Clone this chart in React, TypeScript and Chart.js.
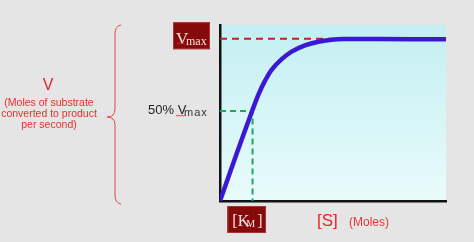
import React, { useEffect, useRef } from "react";
import { Chart, registerables } from "chart.js";

Chart.register(...registerables);

// ---- data (x: substrate concentration, y: reaction velocity) ----
const substrate = [0, 7, 14.2, 17, 20, 23, 27.3, 31.7, 37.6, 43.5, 49.4, 54.4, 70, 100];
const velocity = [0, 25.5, 51.1, 60.5, 68.5, 74.8, 80.6, 84.9, 88.4, 90.5, 91.6, 92.0, 92.0, 91.9];
const vmax = 92.2;
const halfVmax = 51.1;
const km = 14.4;
const xRange = [0, 100];
const yRange = [0, 100];

const leftTitle = "V";
const leftSubtitle = ["(Moles of substrate", "converted to product", "per second)"];
const xTitle = "[S]";
const xUnit = "(Moles)";

const RED = "#e8232b";

const decorPlugin = {
  id: "decor",
  beforeDraw(chart: any) {
    const { ctx, chartArea: a, width, height } = chart;
    ctx.save();
    ctx.fillStyle = "#e5e5e5";
    ctx.fillRect(0, 0, width, height);
    const g = ctx.createLinearGradient(0, a.top, 0, a.bottom);
    g.addColorStop(0, "#c3eff2");
    g.addColorStop(1, "#e9fbfc");
    ctx.fillStyle = g;
    ctx.fillRect(a.left, a.top, a.right - a.left, a.bottom - a.top);
    ctx.restore();
  },
  afterDraw(chart: any) {
    const { ctx, chartArea: a } = chart;
    const xs = chart.scales.x;
    const ys = chart.scales.y;
    const yV = ys.getPixelForValue(vmax);
    const yH = ys.getPixelForValue(halfVmax);
    const xK = xs.getPixelForValue(km);
    ctx.save();
    ctx.textBaseline = "alphabetic";

    const squiggle = (x0: number, x1: number, y: number) => {
      ctx.beginPath();
      ctx.strokeStyle = "#e03030";
      ctx.lineWidth = 0.9;
      for (let x = x0, i = 0; x <= x1; x += 1.5, i++) {
        const yy = y + (i % 2 === 0 ? 0 : 1);
        if (i === 0) ctx.moveTo(x, yy);
        else ctx.lineTo(x, yy);
      }
      ctx.stroke();
    };

    // Vmax box
    const bx = a.left - 47, by = yV - 16.5, bw = 37, bh = 27;
    ctx.fillStyle = "#860a0a";
    ctx.fillRect(bx, by, bw, bh);
    ctx.strokeStyle = "#a83a3a";
    ctx.lineWidth = 1;
    ctx.strokeRect(bx + 0.5, by + 0.5, bw - 1, bh - 1);
    ctx.fillStyle = "#f6e2e2";
    ctx.textAlign = "left";
    ctx.font = '17px "Liberation Serif"';
    ctx.fillText("V", bx + 3, yV + 5.3);
    ctx.font = '12px "Liberation Serif"';
    ctx.fillText("max", bx + 13, yV + 6.5);
    squiggle(bx + 4, bx + 12, yV + 4);

    // 50% Vmax label
    ctx.fillStyle = "#222";
    ctx.font = '13px "Liberation Sans"';
    ctx.fillText("50% V", 148, yH + 2.5);
    ctx.font = '11px "Liberation Sans"';
    (ctx as any).letterSpacing = "1px";
    ctx.fillStyle = "#333";
    ctx.fillText("max", 184, yH + 5);
    (ctx as any).letterSpacing = "0px";
    squiggle(176, 186, yH + 4);

    // KM box
    const kx = xK - 25.2, ky = a.bottom + 5, kw = 38.7, kh = 27;
    ctx.fillStyle = "#860a0a";
    ctx.fillRect(kx, ky, kw, kh);
    ctx.strokeStyle = "#a83a3a";
    ctx.strokeRect(kx + 0.5, ky + 0.5, kw - 1, kh - 1);
    ctx.fillStyle = "#f6e2e2";
    ctx.font = '16px "Liberation Serif"';
    ctx.fillText("[K", kx + 5, a.bottom + 25);
    ctx.font = '10px "Liberation Serif"';
    ctx.fillText("M", kx + 19, a.bottom + 26);
    ctx.font = '16px "Liberation Serif"';
    ctx.fillText("]", kx + 30, a.bottom + 25);

    // x-axis title
    ctx.fillStyle = RED;
    ctx.font = '17px "Liberation Sans"';
    ctx.fillText(xTitle, 317, a.bottom + 24.5);
    ctx.fillStyle = "#e03838";
    ctx.font = '12px "Liberation Sans"';
    ctx.fillText(xUnit, 349, a.bottom + 25);

    // left title
    ctx.textAlign = "center";
    ctx.fillStyle = RED;
    ctx.font = '16px "Liberation Sans"';
    ctx.fillText(leftTitle, 48, 90);
    ctx.fillStyle = "#e8302a";
    ctx.font = '10.5px "Liberation Sans"';
    leftSubtitle.forEach((s, i) => ctx.fillText(s, 49, 105.5 + i * 11));

    // brace
    const mid = 117;
    const bxr = 115;
    ctx.beginPath();
    ctx.strokeStyle = "#e04848";
    ctx.lineWidth = 1;
    ctx.moveTo(bxr + 6, a.top);
    ctx.quadraticCurveTo(bxr, a.top + 1, bxr, a.top + 9);
    ctx.lineTo(bxr, mid - 8);
    ctx.quadraticCurveTo(bxr, mid, bxr - 8, mid);
    ctx.quadraticCurveTo(bxr, mid, bxr, mid + 8);
    ctx.lineTo(bxr, a.bottom - 6);
    ctx.quadraticCurveTo(bxr, a.bottom + 2, bxr + 6, a.bottom + 3);
    ctx.stroke();

    ctx.restore();
  },
};

export default function App() {
  const ref = useRef<HTMLCanvasElement | null>(null);
  useEffect(() => {
    document.body.style.margin = "0";
    if (!ref.current) return;
    const curve = substrate.map((x, i) => ({ x, y: velocity[i] }));
    const chart = new Chart(ref.current, {
      type: "line",
      data: {
        datasets: [
          {
            label: "V",
            data: curve,
            borderColor: "#3b18d4",
            borderWidth: 4.5,
            pointRadius: 0,
            tension: 0.35,
            fill: false,
          },
          {
            label: "Vmax",
            data: [
              { x: xRange[0], y: vmax },
              { x: xRange[1], y: vmax },
            ],
            borderColor: "#c21f2a",
            borderWidth: 2,
            borderDash: [7, 5],
            pointRadius: 0,
            fill: false,
          },
          {
            label: "50% Vmax",
            data: [
              { x: xRange[0], y: halfVmax },
              { x: km, y: halfVmax },
              { x: km, y: yRange[0] },
            ],
            borderColor: "#1fa85a",
            borderWidth: 2,
            borderDash: [6, 4],
            pointRadius: 0,
            fill: false,
          },
        ],
      },
      options: {
        animation: false,
        responsive: false,
        devicePixelRatio: 1,
        layout: { padding: { left: 220, right: 28, top: 25, bottom: 41 } },
        plugins: { legend: { display: false }, tooltip: { enabled: false } },
        scales: {
          x: {
            type: "linear",
            min: xRange[0],
            max: xRange[1],
            grid: { display: false, drawTicks: false },
            ticks: { display: false },
            border: { display: true, color: "#111", width: 2.5 },
          },
          y: {
            type: "linear",
            min: yRange[0],
            max: yRange[1],
            grid: { display: false, drawTicks: false },
            ticks: { display: false },
            border: { display: true, color: "#111", width: 2.5 },
          },
        },
      },
      plugins: [decorPlugin],
    });
    return () => chart.destroy();
  }, []);
  return (
    <canvas ref={ref} width={474} height={242} style={{ display: "block", width: 474, height: 242 }} />
  );
}
